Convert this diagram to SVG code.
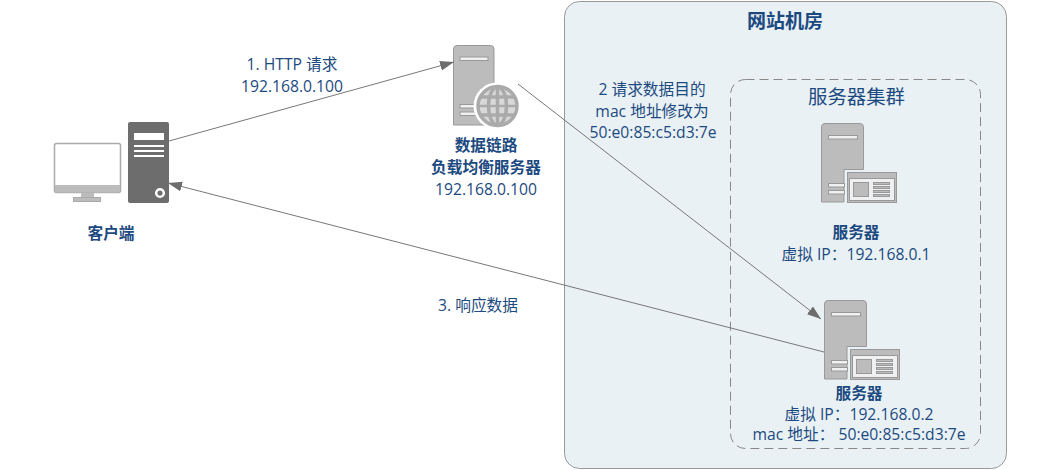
<svg xmlns="http://www.w3.org/2000/svg" width="1044" height="470" viewBox="0 0 1044 470">
<style>
text{font-family:"Open Sans","Noto Sans CJK SC","Noto Sans",sans-serif;fill:#1c4a80;text-anchor:middle;font-size:15.700px}
.b{font-weight:700}
.sv{fill:#bcbcbc;stroke:#999;stroke-width:1}
.w{fill:#eef0f1;stroke:#999;stroke-width:1}
.c{fill:none;stroke:#777;stroke-width:1;marker-end:url(#a)}
</style>
<defs>
<marker id="a" markerUnits="userSpaceOnUse" markerWidth="15" markerHeight="12" refX="14" refY="5" orient="auto"><path d="M0 0L14 5L0 10Z" fill="#6d6d6d"/></marker>
<g id="srv">
<path class="sv" d="M821.5 127q0-3.500 3.500-3.500h35q3.500 0 3.500 3.500v42.500h-19.500v32.500h-22.500z"/>
<rect class="w" x="828.500" y="135.500" width="29" height="3.500"/>
<rect class="w" x="828.500" y="183.500" width="16" height="3.500"/>
<rect class="w" x="828.500" y="190.500" width="16" height="3.500"/>
<rect x="847.500" y="172.500" width="49" height="30" fill="#bcbcbc" stroke="#999"/>
<rect x="849.500" y="178.500" width="45" height="22" fill="#eef0f1" stroke="#999"/>
<rect class="sv" x="853.500" y="182.500" width="15" height="14"/>
<g fill="#bcbcbc" stroke="#999"><rect x="873.500" y="182.500" width="16" height="2"/><rect x="873.500" y="186.500" width="16" height="2"/><rect x="873.500" y="190.500" width="16" height="2"/><rect x="873.500" y="194.500" width="16" height="2"/></g>
</g>
</defs>
<g id="room"><rect x="564.500" y="1.500" width="442" height="467" rx="15" fill="#e9f1f5" stroke="#999"/><text class="b" x="785" y="28" style="font-size:19px">网站机房</text></g>
<g id="cluster"><rect x="730.500" y="79.500" width="250" height="369" rx="15" fill="none" stroke="#888" stroke-dasharray="9 5"/><text x="856.500" y="104" style="font-size:19.400px">服务器集群</text></g>
<g id="client">
<rect x="54.500" y="143.500" width="66" height="49" rx="2" fill="#fff" stroke="#aaa" stroke-width="1.500"/>
<path d="M55 185h65v5.500q0 2-2 2h-61q-2 0-2-2z" fill="#bcbcbc"/>
<rect x="81" y="193" width="13" height="4.500" fill="#bcbcbc"/><rect x="73.500" y="197.500" width="27" height="4" fill="#bcbcbc" stroke="#aaa"/>
<rect x="128" y="122" width="41" height="81" rx="2" fill="#6d6d6d"/>
<rect x="134" y="133" width="30" height="7" fill="#fff"/>
<path d="M134 146h30M134 151h30M134 156h30" stroke="#fff" stroke-width="2"/>
<circle cx="160" cy="193" r="3.800" fill="#6d6d6d" stroke="#fff" stroke-width="2.500"/>
<text class="b" x="111" y="239">客户端</text>
</g>
<g id="lb">
<path class="sv" d="M453.500 49q0-3.500 3.500-3.500h33.500q3.500 0 3.500 3.500v76h-40.500z"/>
<rect class="w" x="460" y="57" width="28" height="3.500"/>
<rect class="w" x="460" y="104.500" width="22" height="3.500"/><rect class="w" x="460" y="112" width="22" height="3.500"/>
<circle cx="497" cy="106" r="23.500" fill="#fff"/>
<circle cx="497.500" cy="106" r="19.500" fill="#d8d8d8" stroke="#aaa" stroke-width="3.500"/>
<g fill="none" stroke="#aaa" stroke-width="3.500"><ellipse cx="497.500" cy="106" rx="9" ry="19"/><path d="M497.500 87v38M480 97h35M480 115h35"/><path d="M478 106h39" stroke-width="2.500"/></g>
<text class="b" x="486" y="151">数据链路</text>
<text class="b" x="486" y="173">负载均衡服务器</text>
<text x="486" y="195">192.168.0.100</text>
</g>
<g id="server1"><use href="#srv"/><text class="b" x="856" y="238">服务器</text><text x="856" y="260">虚拟 IP：192.168.0.1</text></g>
<g id="server2"><use href="#srv" transform="translate(3 177)"/><text class="b" x="859" y="399">服务器</text><text x="859" y="420">虚拟 IP：192.168.0.2</text><text x="859" y="440">mac 地址： 50:e0:85:c5:d3:7e</text></g>
<g id="connectors">
<path class="c" d="M169 141L454 62"/>
<path class="c" d="M518 84L821 319"/>
<path class="c" d="M824 352L168 183"/>
</g>
<g id="labels">
<text x="292" y="70">1. HTTP 请求</text><text x="292" y="92">192.168.0.100</text>
<text x="478" y="311">3. 响应数据</text>
<text x="652" y="95">2 请求数据目的</text><text x="652" y="117">mac 地址修改为</text><text x="653" y="138">50:e0:85:c5:d3:7e</text>
</g>
</svg>
